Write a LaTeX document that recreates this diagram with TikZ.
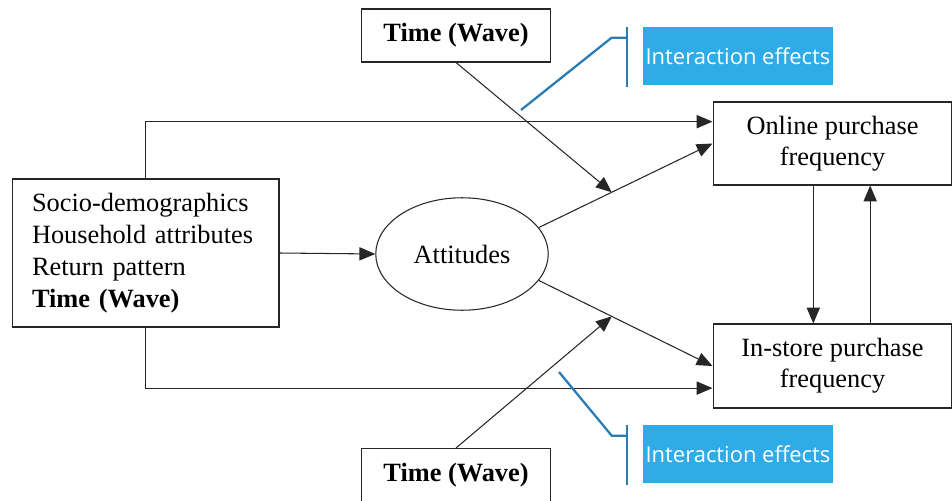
\documentclass[tikz,border=0pt]{standalone}
\usepackage{fontspec}
\setmainfont{Liberation Serif}
\newfontfamily\calloutfont{Open Sans}
\usetikzlibrary{arrows.meta, calc, shapes.geometric}
\definecolor{ink}{HTML}{262626}
\definecolor{cblue}{HTML}{2FABE8}
\definecolor{cbracket}{HTML}{2A7DB2}

\begin{document}
\begin{tikzpicture}[x=0.02cm, y=-0.02cm, font=\fontsize{15}{17.5}\selectfont,
    box/.style={draw=ink, line width=0.6pt, rectangle, align=center, inner sep=0pt},
    arr/.style={draw=ink, line width=0.6pt, -{Triangle[length=9pt, width=7.5pt]}},
    callout/.style={fill=cblue, text=white, inner sep=0pt,
      font=\calloutfont\fontsize{12.5}{15}\selectfont,
      minimum width=3.8cm, minimum height=1.16cm},
    bracket/.style={draw=cbracket, line width=1.3pt}]

    \useasboundingbox (0,0) rectangle (952,500);

    % covariates on the left
    \node[box, align=left, text width=4.54cm, inner xsep=0.4cm, minimum height=2.96cm,
      font=\fontsize{15}{18.2}\selectfont] (cov) at (145.5,253)
      {Socio-demographics\\Household attributes\\Return pattern\\\textbf{Time (Wave)}};
    % moderators
    \node[box, minimum width=3.78cm, minimum height=1.06cm] (wtop) at (456,35.5) {\textbf{Time (Wave)}};
    \node[box, minimum width=3.78cm, minimum height=1.06cm] (wbot) at (456,475) {\textbf{Time (Wave)}};
    % mediator
    \node[ellipse, draw=ink, line width=0.6pt, minimum width=3.45cm, minimum height=2.25cm,
      inner sep=0pt] (att) at (462,254) {Attitudes};
    % outcomes
    \node[box, minimum width=4.78cm, minimum height=1.66cm] (onl) at (832.5,143.5) {Online purchase\\frequency};
    \node[box, minimum width=4.78cm, minimum height=1.68cm] (ins) at (832.5,366) {In-store purchase\\frequency};

    % direct paths
    \draw[arr] (cov.north) |- ($(onl.north west)!0.24!(onl.south west)$);
    \draw[arr] (cov.south) |- ($(ins.north west)!0.76!(ins.south west)$);
    \draw[arr] (cov.east) -- (att.west);
    % mediated paths, with the moderation points on them
    \draw[arr] (att.19) -- coordinate[pos=0.42] (mtop) (onl.west);
    \draw[arr] (att.-19) -- coordinate[pos=0.42] (mbot) (ins.west);
    \draw[arr] (wtop.south) -- (mtop);
    \draw[arr] (wbot.north) -- (mbot);
    % online <-> in-store
    \draw[arr] ($(onl.south west)!0.42!(onl.south east)$) -- ($(ins.north west)!0.42!(ins.north east)$);
    \draw[arr] ($(ins.north west)!0.657!(ins.north east)$) -- ($(onl.south west)!0.657!(onl.south east)$);

    % interaction callouts
    \node[callout] (ietop) at (738,56) {Interaction effects};
    \node[callout] (iebot) at (738,454) {Interaction effects};
    \coordinate (ptop) at (521,110);
    \coordinate (pbot) at (559,372);
    \draw[bracket] ([xshift=-0.32cm]ietop.north west) -- ([xshift=-0.32cm, yshift=-0.04cm]ietop.south west);
    \draw[bracket] ([xshift=-0.32cm, yshift=-0.22cm]ietop.north west) -- ++(-0.3cm,0) -- (ptop);
    \draw[bracket] ([xshift=-0.32cm]iebot.north west) -- ([xshift=-0.32cm, yshift=-0.04cm]iebot.south west);
    \draw[bracket] ([xshift=-0.32cm, yshift=-0.22cm]iebot.north west) -- ++(-0.3cm,0) -- (pbot);
\end{tikzpicture}
\end{document}
